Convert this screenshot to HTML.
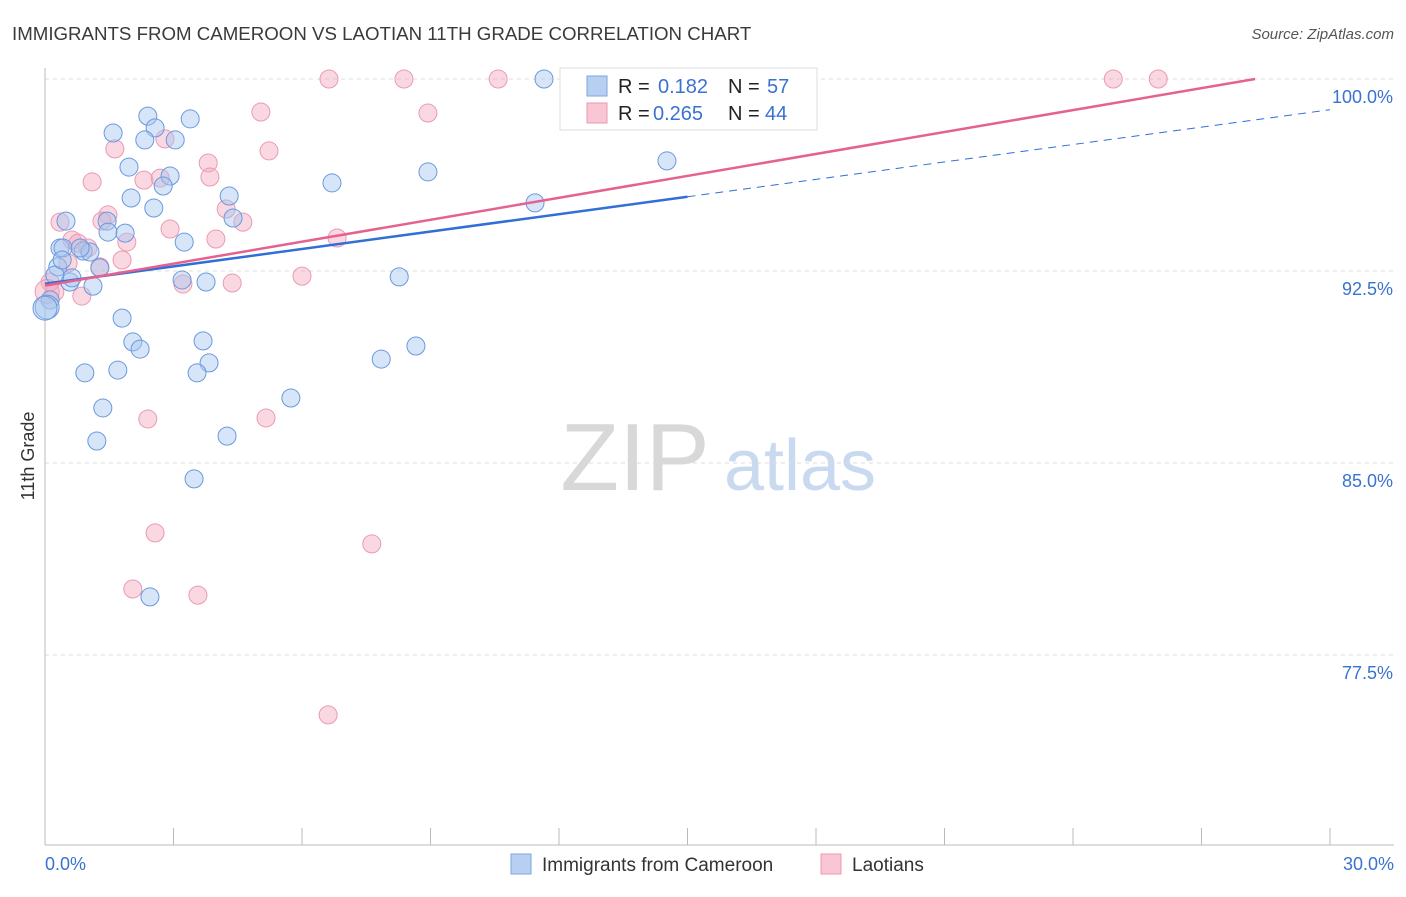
<!DOCTYPE html>
<html><head><meta charset="utf-8">
<style>
body{margin:0;background:#fff;font-family:"Liberation Sans",sans-serif;}
svg text{font-family:"Liberation Sans",sans-serif;}
</style></head>
<body>
<svg id="chart" width="1406" height="892" xmlns="http://www.w3.org/2000/svg">
<text x="12" y="40" font-size="18.7" fill="#3a3a3a">IMMIGRANTS FROM CAMEROON VS LAOTIAN 11TH GRADE CORRELATION CHART</text>
<text x="1394" y="39" font-size="15" fill="#555" text-anchor="end" font-style="italic">Source: ZipAtlas.com</text>
<text x="34" y="456" font-size="18" fill="#333" text-anchor="middle" transform="rotate(-90 34 456)">11th Grade</text>
<g>
<text x="635" y="490" font-size="96" fill="#d8d8d8" text-anchor="middle" font-family="Liberation Serif">ZIP</text>
<text x="800" y="490" font-size="72" fill="#c9daf0" text-anchor="middle">atlas</text>
</g>
<g id="grid"></g>
<g id="axes"></g>
<g id="points"></g>
<g id="trends"></g>
<g>
<rect x="560" y="68" width="257" height="62" fill="#fff" stroke="#ddd"/>
<rect x="587" y="76" width="20" height="20" fill="#b7d0f2" stroke="#7ea6e0"/>
<text x="618" y="93" font-size="20" fill="#222">R = </text><text x="658" y="93" font-size="20" fill="#3a72d0">0.182</text>
<text x="728" y="93" font-size="20" fill="#222">N = </text><text x="767" y="93" font-size="20" fill="#3a72d0">57</text>
<rect x="587" y="103" width="20" height="20" fill="#f8c6d4" stroke="#eb98b0"/>
<text x="618" y="120" font-size="20" fill="#222">R = </text><text x="653" y="120" font-size="20" fill="#3a72d0">0.265</text>
<text x="728" y="120" font-size="20" fill="#222">N = </text><text x="765" y="120" font-size="20" fill="#3a72d0">44</text>
</g>
<g>
<rect x="511" y="854" width="20" height="20" fill="#b7d0f2" stroke="#7ea6e0"/>
<text x="542" y="871" font-size="19" fill="#333">Immigrants from Cameroon</text>
<rect x="821" y="854" width="20" height="20" fill="#f8c6d4" stroke="#eb98b0"/>
<text x="852" y="871" font-size="19" fill="#333">Laotians</text>
</g>
</svg>
<script>
const xTicks=[0,3,6,9,12,15,18,21,24,27,30];
const yTicks=[100,92.5,85,77.5];
const yTickLabels=["100.0%","92.5%","85.0%","77.5%"];
const xEndLabels=["0.0%","30.0%"];
const blueX=[1.59,2.40,2.57,2.33,3.04,3.39,1.96,2.92,2.76,2.01,2.54,4.30,4.39,1.45,0.49,1.47,1.87,3.25,0.35,0.42,0.89,1.05,0.82,0.30,1.28,0.58,0.63,1.12,3.20,3.76,0.12,0.05,1.80,2.05,2.22,3.69,3.83,3.55,0.93,1.70,1.35,1.21,4.25,3.48,2.45,5.74,6.70,8.94,8.27,7.85,8.66,11.44,11.65,14.52,0.0,0.23,0.40];
const blueY=[97.89,98.55,98.09,97.62,97.62,98.44,96.56,96.21,95.82,95.35,94.96,95.43,94.57,94.45,94.45,94.02,93.98,93.63,93.40,93.40,93.28,93.24,93.40,92.66,92.62,92.07,92.23,91.91,92.15,92.07,91.37,91.09,90.66,89.73,89.45,89.77,88.91,88.52,88.52,88.63,87.15,85.86,86.05,84.38,79.77,87.54,95.94,96.37,92.27,89.06,89.57,95.16,100.0,96.80,91.05,92.34,92.93];
const pinkX=[6.63,8.38,10.58,24.94,25.99,5.04,8.94,1.63,2.80,5.23,3.81,3.85,2.31,2.69,1.10,4.23,4.62,1.47,1.33,0.35,2.92,6.82,3.99,1.91,0.63,0.77,1.00,1.80,6.00,4.37,3.22,1.28,0.54,0.86,0.23,0.12,2.40,5.16,2.57,7.63,2.05,3.57,6.61,0.05];
const pinkY=[100,100,100,100,100,98.71,98.67,97.27,97.66,97.19,96.72,96.17,96.05,96.13,95.98,94.92,94.41,94.69,94.45,94.41,94.14,93.79,93.75,93.63,93.71,93.59,93.40,92.93,92.30,92.03,91.99,92.66,92.81,91.52,91.68,92.07,86.72,86.76,82.27,81.84,80.08,79.84,75.16,91.7];
const blueTrend=[0,92.0,30,98.8];
const blueSolidEnd=15;
const pinkTrend=[0,91.93,28.25,100];

const NS="http://www.w3.org/2000/svg";
const X=v=>45+v*(1285/30);
const Y=v=>79+(100-v)*25.6;
function mk(tag,attrs,parent){const e=document.createElementNS(NS,tag);for(const k in attrs)e.setAttribute(k,attrs[k]);parent.appendChild(e);return e;}
const grid=document.getElementById('grid'),axes=document.getElementById('axes'),pts=document.getElementById('points'),tr=document.getElementById('trends');
yTicks.forEach((t,i)=>{
 const l=mk('line',{x1:45,x2:1394,y1:Y(t),y2:Y(t),stroke:'#ddd','stroke-dasharray':'4,4'},grid);
 
 
 const tx=mk('text',{x:1393,y:Y(t)+24,'font-size':18,fill:'#3a72d0','text-anchor':'end'},axes);
 tx.textContent=yTickLabels[i];
 
 
});
const ax=mk('line',{x1:45,x2:45,y1:68,y2:845,stroke:'#bbb'},axes);


const bx=mk('line',{x1:45,x2:1394,y1:845,y2:845,stroke:'#bbb'},axes);


xTicks.forEach(t=>{
 const l=mk('line',{x1:X(t),x2:X(t),y1:828,y2:845,stroke:'#bbb'},axes);
 
 
});
const xl0=mk('text',{x:45,y:870,'font-size':18,fill:'#3a72d0'},axes);xl0.textContent=xEndLabels[0];


const xl1=mk('text',{x:1394,y:870,'font-size':18,fill:'#3a72d0','text-anchor':'end'},axes);xl1.textContent=xEndLabels[1];


function dots(xs,ys,fill,stroke,name){xs.forEach((v,i)=>{
 const r=(v<0.06)?12:9;
 const c=mk('circle',{cx:X(v),cy:Y(ys[i]),r:r,fill:fill,'fill-opacity':0.45,stroke:stroke,'stroke-width':1},pts);
 
 
});}
dots(pinkX,pinkY,'#f4a9bf','#eb9ab3','point-laotians');
dots(blueX,blueY,'#a7c6ef','#6b99dc','point-cameroon');
const byAt=x=>blueTrend[1]+(blueTrend[3]-blueTrend[1])*(x-blueTrend[0])/(blueTrend[2]-blueTrend[0]);
const b1=mk('line',{x1:X(blueTrend[0]),y1:Y(blueTrend[1]),x2:X(blueSolidEnd),y2:Y(byAt(blueSolidEnd)),stroke:'#2f6fd6','stroke-width':2.5},tr);


const b2=mk('line',{x1:X(blueSolidEnd),y1:Y(byAt(blueSolidEnd)),x2:X(blueTrend[2]),y2:Y(blueTrend[3]),stroke:'#2f6fd6','stroke-width':1,'stroke-dasharray':'8,6'},tr);


const p1=mk('line',{x1:X(pinkTrend[0]),y1:Y(pinkTrend[1]),x2:X(pinkTrend[2]),y2:Y(pinkTrend[3]),stroke:'#e5628e','stroke-width':2.5},tr);


</script>
</body></html>
